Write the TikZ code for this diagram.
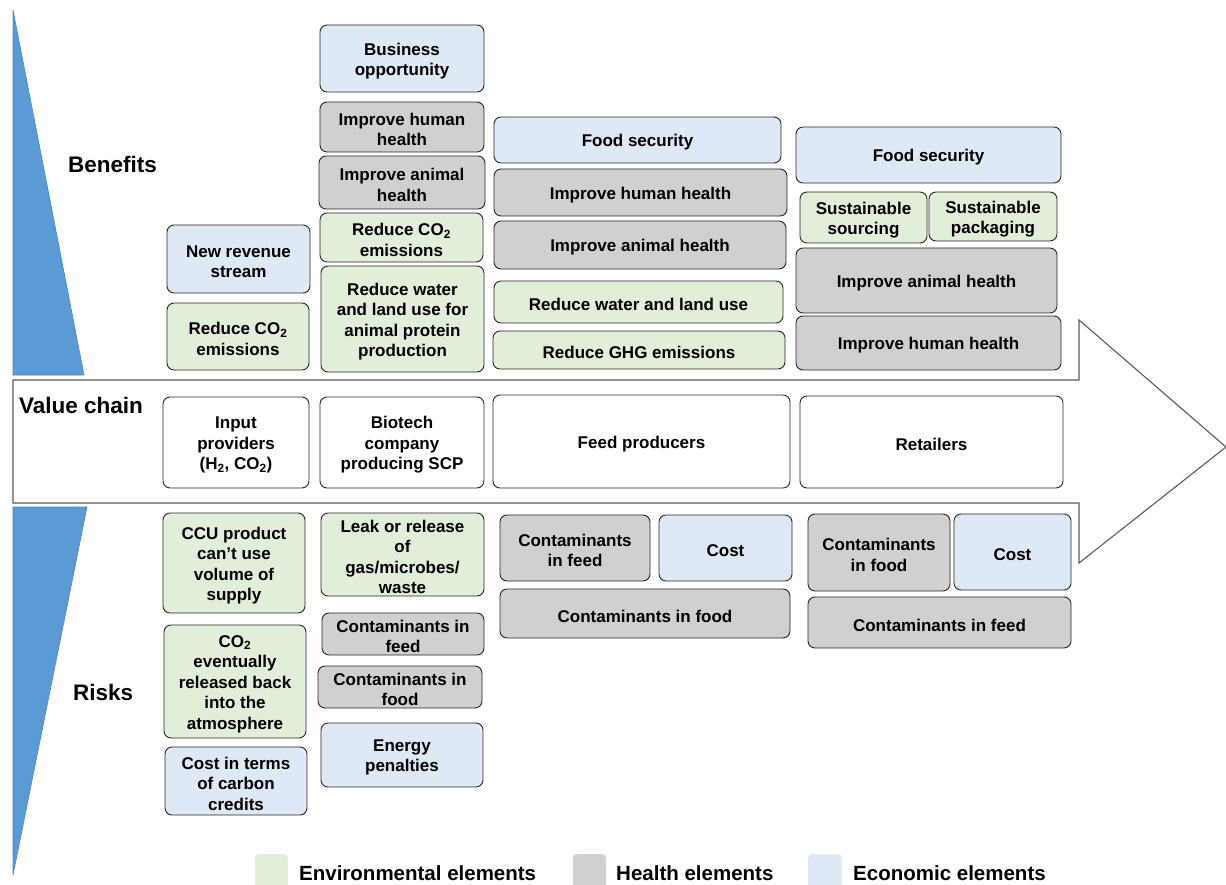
\documentclass[tikz,border=0pt]{standalone}
\usepackage{fontspec}
\setmainfont{Liberation Sans}
\definecolor{envG}{HTML}{E1EED9}
\definecolor{hltG}{HTML}{D1CFCF}
\definecolor{ecoB}{HTML}{DEE9F5}
\definecolor{triB}{HTML}{5B9BD5}
\definecolor{triE}{HTML}{4A84BC}
\definecolor{shaftC}{HTML}{5A5A5A}
\tikzset{
  box/.style={draw=black!85, line width=0.9pt, rounded corners=7pt, inner sep=0pt},
  envbox/.style={box, fill=envG},
  hltbox/.style={box, fill=hltG},
  ecobox/.style={box, fill=ecoB},
  vcbox/.style={box, fill=white},
  boxtext/.style={align=center, inner sep=0pt, font=\fontsize{17}{20.5}\selectfont\bfseries},
  sectlabel/.style={inner sep=0pt, anchor=base west, font=\fontsize{22.5}{26}\selectfont\bfseries},
  legsq/.style={rounded corners=4pt, draw=none},
  legtxt/.style={inner sep=0pt, anchor=base west, font=\fontsize{20.5}{24}\selectfont\bfseries},
  tri/.style={fill=triB, draw=triE, line width=0.6pt}
}
\newcommand\bx[7]{%
  \node[#2, minimum width={#5-#3}, minimum height={#6-#4}] (#1) at ({(#3+#5)/2},{(#4+#6)/2}) {};
  \node[boxtext] (#1t) at ([yshift=-2.5pt]#1.center) {#7};}
\begin{document}
\begin{tikzpicture}[x=1pt,y=-1pt]
\useasboundingbox (0,0) rectangle (1226,885);
% value chain arrow
\draw[shaftC, line width=1.1pt, fill=white, line join=miter]
  (13,380) -- (1079,380) -- (1079,320) -- (1226,447) -- (1079,563) -- (1079,503) -- (13,503) -- cycle;
% triangles
\path[tri] (13,10) -- (84,375) -- (13,375) -- cycle;
\path[tri] (13,507) -- (87,507) -- (13,875) -- cycle;
% section labels
\node[sectlabel] (lbBen) at (68,173) {Benefits};
\node[sectlabel] (lbVC) at (19,413) {Value chain};
\node[sectlabel] (lbRisk) at (73,700) {Risks};
% column 1
\bx{c1a}{ecobox}{167}{225}{310}{293}{New revenue\\stream}
\bx{c1b}{envbox}{167}{303}{309}{370}{Reduce CO\textsubscript{2}\\emissions}
\bx{c1v}{vcbox}{163}{397}{309}{488}{Input\\providers\\(H\textsubscript{2}, CO\textsubscript{2})}
\bx{c1r1}{envbox}{163}{513}{305}{613}{CCU product\\can’t use\\volume of\\supply}
\bx{c1r2}{envbox}{164}{625}{306}{738}{CO\textsubscript{2}\\eventually\\released back\\into the\\atmosphere}
\bx{c1r3}{ecobox}{165}{747}{307}{815}{Cost in terms\\of carbon\\credits}
% column 2
\bx{c2a}{ecobox}{320}{25}{484}{92}{Business\\opportunity}
\bx{c2b}{hltbox}{320}{102}{484}{152}{Improve human\\health}
\bx{c2c}{hltbox}{319}{156}{485}{209}{Improve animal\\health}
\bx{c2d}{envbox}{320}{213}{483}{262}{Reduce CO\textsubscript{2}\\emissions}
\bx{c2e}{envbox}{321}{266}{484}{372}{Reduce water\\and land use for\\animal protein\\production}
\bx{c2v}{vcbox}{320}{397}{484}{488}{Biotech\\company\\producing SCP}
\bx{c2r1}{envbox}{321}{513}{484}{596}{Leak or release\\of\\gas/microbes/\\waste}
\bx{c2r2}{hltbox}{322}{613}{484}{655}{Contaminants in\\feed}
\bx{c2r3}{hltbox}{318}{666}{482}{708}{Contaminants in\\food}
\bx{c2r4}{ecobox}{321}{723}{483}{787}{Energy\\penalties}
% column 3
\bx{c3a}{ecobox}{494}{117}{781}{163}{Food security}
\bx{c3b}{hltbox}{494}{169}{787}{216}{Improve human health}
\bx{c3c}{hltbox}{494}{221}{786}{269}{Improve animal health}
\bx{c3d}{envbox}{494}{281}{783}{323}{Reduce water and land use}
\bx{c3e}{envbox}{493}{331}{785}{369}{Reduce GHG emissions}
\bx{c3v}{vcbox}{493}{395}{790}{488}{Feed producers}
\bx{c3r1}{hltbox}{500}{515}{650}{581}{Contaminants\\in feed}
\bx{c3r2}{ecobox}{659}{515}{792}{581}{Cost}
\bx{c3r3}{hltbox}{500}{589}{790}{638}{Contaminants in food}
% column 4
\bx{c4a}{ecobox}{796}{127}{1061}{183}{Food security}
\bx{c4b}{envbox}{800}{192}{927}{243}{Sustainable\\sourcing}
\bx{c4c}{envbox}{929}{192}{1057}{241}{Sustainable\\packaging}
\bx{c4d}{hltbox}{796}{248}{1057}{313}{Improve animal health}
\bx{c4e}{hltbox}{796}{316}{1061}{370}{Improve human health}
\bx{c4v}{vcbox}{800}{396}{1063}{488}{Retailers}
\bx{c4r1}{hltbox}{808}{514}{950}{591}{Contaminants\\in food}
\bx{c4r2}{ecobox}{954}{514}{1071}{590}{Cost}
\bx{c4r3}{hltbox}{808}{597}{1071}{648}{Contaminants in feed}
% legend
\fill[legsq, envG] (255,854) rectangle (288,892);
\node[legtxt] (lgEnv) at (299,880) {Environmental elements};
\fill[legsq, hltG] (573,854) rectangle (606,892);
\node[legtxt] (lgHlt) at (616,880) {Health elements};
\fill[legsq, ecoB] (808,854) rectangle (842,892);
\node[legtxt] (lgEco) at (853,880) {Economic elements};
\end{tikzpicture}
\end{document}
